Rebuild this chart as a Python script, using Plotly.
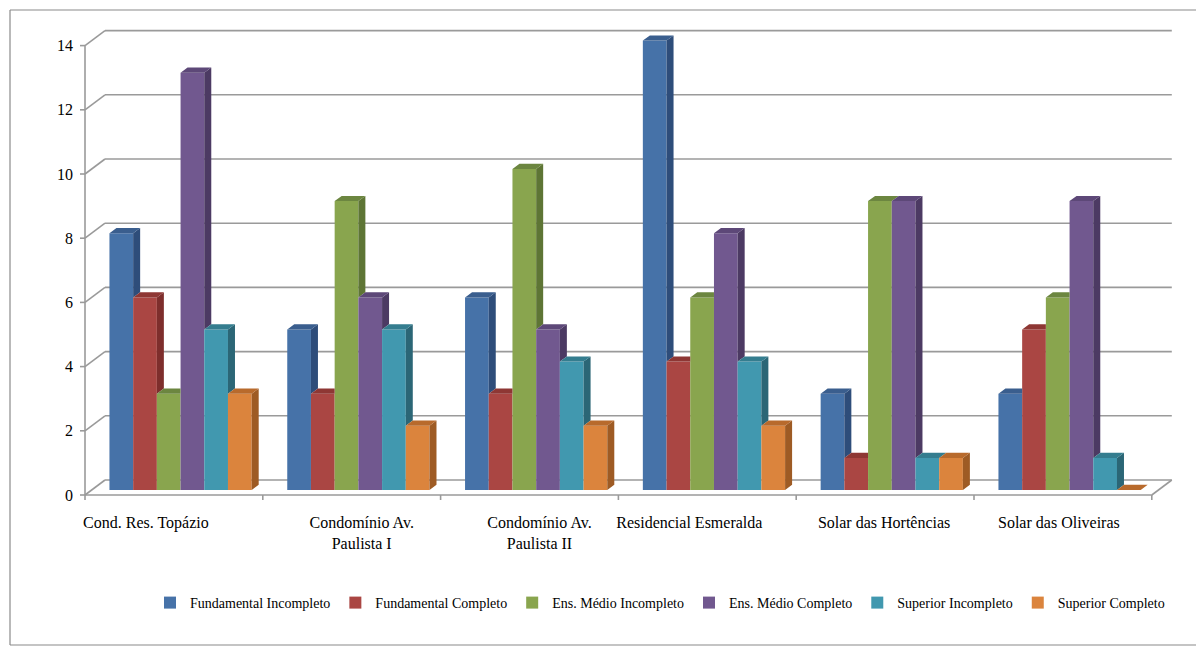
import plotly.graph_objects as go

# escolaridade por condominio
categorias = ["Cond. Res. Topázio", "Condomínio Av.<br>Paulista I", "Condomínio Av.<br>Paulista II",
              "Residencial Esmeralda", "Solar das Hortências", "Solar das Oliveiras"]
series = ["Fundamental Incompleto", "Fundamental Completo", "Ens. Médio Incompleto",
          "Ens. Médio Completo", "Superior Incompleto", "Superior Completo"]
fund_incompleto = [8, 5, 6, 14, 3, 3]
fund_completo = [6, 3, 3, 4, 1, 5]
medio_incompleto = [3, 9, 10, 6, 9, 6]
medio_completo = [13, 6, 5, 8, 9, 9]
sup_incompleto = [5, 5, 4, 4, 1, 1]
sup_completo = [3, 2, 2, 2, 1, 0]
y_ticks = [0, 2, 4, 6, 8, 10, 12, 14]

valores = [fund_incompleto, fund_completo, medio_incompleto, medio_completo, sup_incompleto, sup_completo]

# cores: frente, lateral, topo
frente = ["#4672A8", "#AA4643", "#89A54E", "#71588F", "#4198AF", "#DB843D"]
lateral = ["#2E4D7A", "#7E2E2C", "#5E7535", "#4C3A63", "#2B6676", "#9E5B24"]
topo = ["#3A5E8E", "#8E3734", "#6C8640", "#5D4878", "#347D8F", "#B86A2C"]

# geometria do efeito 3d (unidades dos eixos)
px_x = 177.8   # px por categoria
px_y = 32.1    # px por unidade
prof_x = 20 / px_x   # profundidade total da caixa
prof_y = 15 / px_y
base_x = prof_x / 3  # plano da frente das barras
base_y = prof_y / 3
barra_dx = 7 / px_x  # profundidade das barras
barra_dy = 5.2 / px_y
larg = 0.8 / 6
cinza = "#9a9a9a"
# o excel nao centraliza todos os rotulos (px)
desvio_rotulo = [-28, 10, 10, -18, -1, -4]

fig = go.Figure()

n = len(categorias)
for k, nome in enumerate(series):
    vals = valores[k]
    off = -0.4 + k * larg + base_x
    fig.add_trace(go.Bar(x=list(range(n)), y=vals, base=base_y, width=larg, offset=off,
                         name=nome, marker=dict(color=frente[k], line=dict(width=0))))

# faces laterais e de topo, so a parte visivel
for k in range(len(series)):
    lx, ly, tx, ty = [], [], [], []
    for i in range(n):
        v = valores[k][i]
        xl = i - 0.4 + k * larg + base_x
        xr = xl + larg
        t = base_y + v
        prox = valores[k + 1][i] if k + 1 < len(series) else 0
        if k + 1 == len(series) or prox < v:
            h = base_y + prox if k + 1 < len(series) else base_y
            lx += [xr, xr, xr + barra_dx, xr + barra_dx, xr, None]
            ly += [h, t, t + barra_dy, h + barra_dy, h, None]
        if k + 1 < len(series) and prox > v:
            tx += [xl, xr, xr, xl + barra_dx, xl, None]
            ty += [t, t, t + barra_dy, t + barra_dy, t, None]
        else:
            tx += [xl, xr, xr + barra_dx, xl + barra_dx, xl, None]
            ty += [t, t, t + barra_dy, t + barra_dy, t, None]
    fig.add_trace(go.Scatter(x=lx, y=ly, fill="toself", fillcolor=lateral[k], mode="none",
                             showlegend=False, hoverinfo="skip"))
    fig.add_trace(go.Scatter(x=tx, y=ty, fill="toself", fillcolor=topo[k], mode="none",
                             showlegend=False, hoverinfo="skip"))

# paredes, chao e grade
shapes = []
linha = dict(color=cinza, width=1.6)
x0, x1 = -0.5, n - 0.5
for v in y_ticks:
    shapes.append(dict(type="line", xref="x", yref="y", layer="below", line=linha,
                       x0=x0 + prof_x, x1=x1 + prof_x, y0=v + prof_y, y1=v + prof_y))
    shapes.append(dict(type="line", xref="x", yref="y", layer="below", line=linha,
                       x0=x0, x1=x0 + prof_x, y0=v, y1=v + prof_y))
    shapes.append(dict(type="line", xref="x", yref="y", layer="below", line=linha,
                       x0=x0 - 5 / px_x, x1=x0, y0=v, y1=v))
shapes.append(dict(type="line", xref="x", yref="y", layer="below", line=linha,
                   x0=x0, x1=x0, y0=0, y1=y_ticks[-1]))
shapes.append(dict(type="line", xref="x", yref="y", layer="below", line=linha,
                   x0=x0, x1=x1, y0=0, y1=0))
shapes.append(dict(type="line", xref="x", yref="y", layer="below", line=linha,
                   x0=x1, x1=x1 + prof_x, y0=0, y1=prof_y))
for i in range(n + 1):
    shapes.append(dict(type="line", xref="x", yref="y", layer="below", line=linha,
                       x0=x0 + i, x1=x0 + i, y0=0, y1=-8 / px_y))
# moldura do grafico: so esquerda, topo e base (a direita fica fora da imagem)
moldura = dict(color="#8a8a8a", width=1.2)
fx0, fx1 = (10 - 80) / 1100, (1300 - 80) / 1100
fy0, fy1 = (500 - 645) / 478, (500 - 10) / 478
for a, b, c, d in [(fx0, fy0, fx0, fy1), (fx0, fy1, fx1, fy1), (fx0, fy0, fx1, fy0)]:
    shapes.append(dict(type="line", xref="paper", yref="paper", layer="below", line=moldura,
                       x0=a, y0=b, x1=c, y1=d))

fonte = "Liberation Serif, Times New Roman, serif"
fig.update_layout(
    width=1196, height=649,
    margin=dict(l=80, r=16, t=22, b=149, autoexpand=False),
    paper_bgcolor="white", plot_bgcolor="white",
    barmode="overlay",
    shapes=shapes,
    font=dict(family=fonte, size=16, color="black"),
    xaxis=dict(range=[-0.5 - 5 / px_x, -0.5 + 1095 / px_x],
               tickvals=[i + d / px_x for i, d in enumerate(desvio_rotulo)],
               ticktext=categorias, showgrid=False, zeroline=False, showline=False,
               ticks="", ticklabelstandoff=11, fixedrange=True),
    yaxis=dict(range=[-5 / px_y, 473 / px_y], tickvals=y_ticks, showgrid=False,
               zeroline=False, showline=False, ticks="", ticklabelstandoff=6, fixedrange=True),
    legend=dict(orientation="h", x=(150 - 80) / 1100, xanchor="left", y=(500 - 603) / 478,
                yanchor="middle", font=dict(size=14), itemwidth=30,
                bgcolor="rgba(0,0,0,0)"),
    showlegend=True,
)

# tira a margem padrao do body para a figura ocupar a janela inteira
fig.write_html("out.html", config={"displayModeBar": False},
               post_script="document.body.style.margin='0';document.body.style.overflow='hidden';")
